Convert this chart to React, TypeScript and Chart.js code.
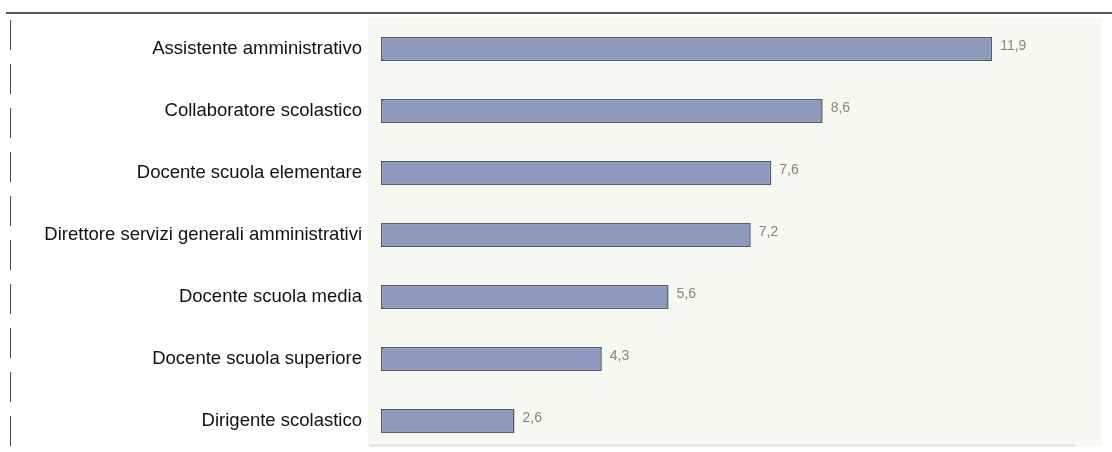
import React, { useEffect, useRef } from "react";
import { Chart, registerables } from "chart.js";

Chart.register(...registerables);

const categories = [
  "Assistente amministrativo",
  "Collaboratore scolastico",
  "Docente scuola elementare",
  "Direttore servizi generali amministrativi",
  "Docente scuola media",
  "Docente scuola superiore",
  "Dirigente scolastico",
];
const values = [11.9, 8.6, 7.6, 7.2, 5.6, 4.3, 2.6];

const W = 1112;
const H = 452;
const FONT = "'Liberation Sans', Arial, sans-serif";

// Page frame, panel background and the value labels beside each bar
const decorPlugin = {
  id: "decor",
  beforeDraw(chart: any) {
    const ctx = chart.ctx;
    ctx.save();
    ctx.fillStyle = "#ffffff";
    ctx.fillRect(0, 0, W, H);
    ctx.fillStyle = "#f6f8f2";
    ctx.fillRect(368, 18, 734, 428);
    ctx.strokeStyle = "#d8dad4";
    ctx.lineWidth = 1.5;
    ctx.beginPath();
    ctx.moveTo(370, 445.5);
    ctx.lineTo(1075, 445.5);
    ctx.stroke();
    ctx.strokeStyle = "#1e1e1e";
    ctx.lineWidth = 1.5;
    ctx.beginPath();
    ctx.moveTo(6, 13);
    ctx.lineTo(W, 13);
    ctx.stroke();
    ctx.strokeStyle = "#4a4a4a";
    ctx.lineWidth = 1;
    ctx.setLineDash([30, 14]);
    ctx.beginPath();
    ctx.moveTo(10.5, 20);
    ctx.lineTo(10.5, H);
    ctx.stroke();
    ctx.restore();
  },
  afterDatasetsDraw(chart: any) {
    const ctx = chart.ctx;
    const meta = chart.getDatasetMeta(0);
    ctx.save();
    ctx.fillStyle = "#858581";
    ctx.font = `14px ${FONT}`;
    ctx.textAlign = "left";
    ctx.textBaseline = "middle";
    meta.data.forEach((bar: any, i: number) => {
      const txt = values[i].toFixed(1).replace(".", ",");
      ctx.fillText(txt, bar.x + 8, bar.y - 3);
    });
    ctx.restore();
  },
};

export default function App() {
  const ref = useRef<HTMLCanvasElement | null>(null);

  useEffect(() => {
    if (!ref.current) return;
    const chart = new Chart(ref.current, {
      type: "bar",
      data: {
        labels: categories,
        datasets: [
          {
            data: values,
            backgroundColor: "#8d9abd",
            borderColor: "#555b6c",
            borderWidth: 1.5,
            borderSkipped: false,
            barPercentage: 0.39,
            categoryPercentage: 1,
          },
        ],
      },
      options: {
        indexAxis: "y",
        animation: false,
        responsive: false,
        events: [],
        layout: { padding: { top: 18, bottom: 0, left: 0, right: 12 } },
        plugins: {
          legend: { display: false },
          tooltip: { enabled: false },
        },
        scales: {
          x: { display: false, min: 0, max: 14 },
          y: {
            grid: { display: false },
            border: { display: false },
            ticks: {
              color: "#111111",
              padding: 11,
              font: { family: FONT, size: 18.5 },
            },
            afterFit(scale: any) {
              scale.width = 381;
              scale.paddingTop = 0;
              scale.paddingBottom = 0;
            },
          },
        },
      },
      plugins: [decorPlugin],
    });
    return () => chart.destroy();
  }, []);

  return (
    <div style={{ position: "absolute", left: 0, top: 0, width: W, height: H }}>
      <canvas ref={ref} width={W} height={H} style={{ width: W, height: H }} />
    </div>
  );
}
